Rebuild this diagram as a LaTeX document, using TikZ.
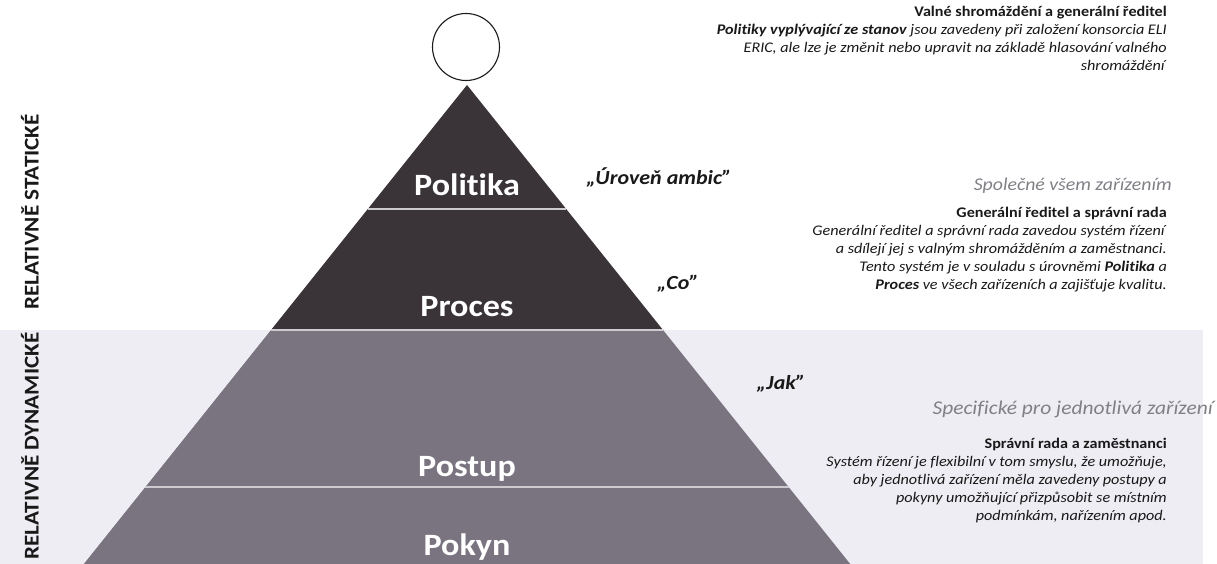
\documentclass[tikz,border=0pt]{standalone}
\usepackage{fontspec}
\setmainfont{Carlito}[FakeStretch=1.1, Ligatures={NoCommon}]
\definecolor{darklayer}{RGB}{58,52,57}
\definecolor{greylayer}{RGB}{122,116,128}
\definecolor{bandcol}{RGB}{237,237,243}
\definecolor{sepcol}{RGB}{205,203,208}
\definecolor{subcol}{RGB}{128,128,134}
\definecolor{textcol}{RGB}{25,25,25}
\begin{document}
\begin{tikzpicture}[x=1pt,y=-1pt,
  layerlabel/.style={text=white, font=\fontsize{31}{34}\selectfont\bfseries, inner sep=0, anchor=base},
  quote/.style={font=\fontsize{20}{22}\selectfont\bfseries\itshape, text=textcol, inner sep=0, anchor=base},
  sidelabel/.style={font=\fontsize{21}{23}\selectfont\bfseries, text=textcol, rotate=90, inner sep=0},
  subhead/.style={font=\fontsize{18}{20}\selectfont\itshape, text=subcol, inner sep=0, anchor=base east},
  block/.style={font=\fontsize{14.7}{18}\selectfont, text=textcol, inner sep=0, anchor=base east},
  sepline/.style={draw=sepcol, line width=2pt}
]
\useasboundingbox (0,0) rectangle (1217,564);
\clip (0,0) rectangle (1217,564);
\fill[bandcol] (0,330) rectangle (1203,564);

% pyramid layers
\coordinate (apex) at (467,85);
\coordinate (l1) at (367.8,209); \coordinate (r1) at (566.2,209);
\coordinate (l2) at (271,330);   \coordinate (r2) at (663,330);
\coordinate (l3) at (145.4,487); \coordinate (r3) at (788.6,487);
\coordinate (l4) at (79,570);    \coordinate (r4) at (855,570);
\fill[darklayer] (apex) -- (r1) -- (l1) -- cycle;
\fill[darklayer] (l1) -- (r1) -- (r2) -- (l2) -- cycle;
\fill[greylayer] (l2) -- (r2) -- (r3) -- (l3) -- cycle;
\fill[greylayer] (l3) -- (r3) -- (r4) -- (l4) -- cycle;
\draw[sepline] (l1) -- (r1);
\draw[sepline] (l2) -- (r2);
\draw[sepline] (l3) -- (r3);

\node[circle, draw=textcol, line width=1.1pt, minimum size=67pt, inner sep=0] (top) at (466,47) {};

\node[layerlabel] (politika) at (467,196) {Politika};
\node[layerlabel] (proces) at (467,316) {Proces};
\node[layerlabel] (postup) at (467,476) {Postup};
\node[layerlabel] (pokyn) at (467,555) {Pokyn};

\node[quote] (ambice) at (659,185) {„Úroveň ambic”};
\node[quote] (co) at (678,289) {„Co”};
\node[quote] (jak) at (781,389) {„Jak”};

\node[sidelabel] (stat) at (30,212) {RELATIVNĚ STATICKÉ};
\node[sidelabel] (dyn) at (30,446) {RELATIVNĚ DYNAMICKÉ};

\node[block] (valne) at (1167,17) {\begin{tabular}[t]{@{}r@{}}\textbf{Valné shromáždění a generální ředitel}\\
\textit{\textbf{Politiky vyplývající ze stanov} jsou zavedeny při založení konsorcia ELI}\\
\textit{ERIC, ale lze je změnit nebo upravit na základě hlasování valného}\\
\textit{shromáždění}\end{tabular}};

\node[subhead] (spolecne) at (1172,190) {Společné všem zařízením};
\node[block] (reditel) at (1167,217) {\begin{tabular}[t]{@{}r@{}}\textbf{Generální ředitel a správní rada}\\
\textit{Generální ředitel a správní rada zavedou systém řízení}\\
\textit{a sdílejí jej s valným shromážděním a zaměstnanci.}\\
\textit{Tento systém je v souladu s úrovněmi \textbf{Politika} a}\\
\textit{\textbf{Proces} ve všech zařízeních a zajišťuje kvalitu.}\end{tabular}};

\node[subhead, font=\fontsize{19.5}{22}\selectfont\itshape] (specificke) at (1213,414) {Specifické pro jednotlivá zařízení};
\node[block] (sprava) at (1167,448) {\begin{tabular}[t]{@{}r@{}}\textbf{Správní rada a zaměstnanci}\\
\textit{Systém řízení je flexibilní v tom smyslu, že umožňuje,}\\
\textit{aby jednotlivá zařízení měla zavedeny postupy a}\\
\textit{pokyny umožňující přizpůsobit se místním}\\
\textit{podmínkám, nařízením apod.}\end{tabular}};
\end{tikzpicture}
\end{document}
